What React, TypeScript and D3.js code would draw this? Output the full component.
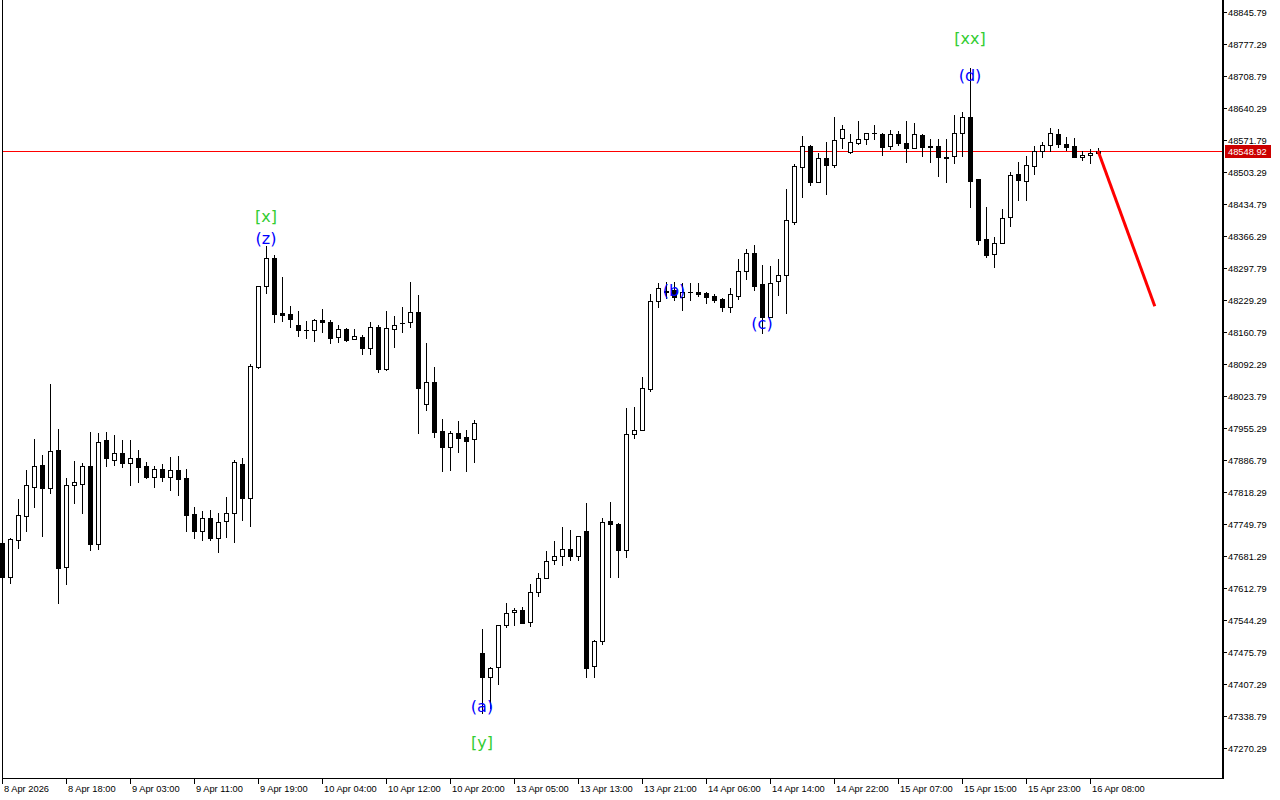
import React from "react";
import * as d3 from "d3";

const opens = [
  47709.1, 47636.3, 47715.5, 47766.9, 47829.0, 47876.1, 47826.9, 47908.2, 47657.8, 47833.3,
  47835.4, 47874.0, 47707.0, 47929.6, 47886.8, 47901.8, 47880.4, 47891.1, 47874.0, 47850.4,
  47867.5, 47850.4, 47865.4, 47848.3, 47771.2, 47734.8, 47762.6, 47719.8, 47756.2, 47773.3,
  47878.2, 47805.5, 48085.9, 48259.3, 48319.2, 48201.5, 48199.3, 48175.8, 48165.1, 48165.1,
  48186.5, 48182.2, 48150.1, 48167.2, 48145.8, 48150.1, 48126.5, 48171.5, 48081.6, 48167.2,
  48180.1, 48182.2, 48203.6, 48006.7, 48053.8, 47948.9, 47914.6, 47944.6, 47936.0, 47931.8,
  47473.7, 47422.3, 47443.7, 47533.6, 47561.4, 47565.7, 47540.0, 47604.2, 47634.2, 47672.7,
  47681.3, 47696.3, 47681.3, 47734.8, 47445.8, 47499.3, 47756.2, 47749.8, 47694.1, 47942.5,
  47951.0, 48038.8, 48227.2, 48246.4, 48250.7, 48235.7, 48246.4, 48246.4, 48244.3, 48237.9,
  48231.4, 48214.3, 48237.9, 48291.4, 48329.9, 48263.5, 48192.9, 48270.0, 48282.8, 48396.3,
  48514.0, 48559.0, 48481.9, 48533.3, 48518.3, 48576.1, 48546.1, 48565.4, 48573.9, 48586.8,
  48584.6, 48559.0, 48584.6, 48565.4, 48554.7, 48582.5, 48559.0, 48559.0, 48535.4, 48537.5,
  48586.8, 48621.0, 48488.3, 48359.9, 48327.8, 48351.3, 48407.0, 48499.0, 48484.0, 48516.1,
  48548.3, 48561.1, 48584.6, 48563.2, 48559.0, 48535.4, 48539.7, 48544.0,
];

const highs = [
  47715.5, 47719.8, 47803.3, 47865.4, 47931.8, 47897.5, 48049.5, 47953.1, 47848.3, 47884.6,
  47880.4, 47946.7, 47944.6, 47946.7, 47940.3, 47929.6, 47929.6, 47908.2, 47882.5, 47874.0,
  47878.2, 47893.2, 47895.3, 47867.5, 47786.2, 47777.6, 47779.8, 47773.3, 47807.6, 47886.8,
  47891.1, 48092.3, 48259.3, 48344.9, 48325.6, 48278.5, 48216.4, 48205.7, 48184.3, 48188.6,
  48210.0, 48186.5, 48175.8, 48169.4, 48167.2, 48154.4, 48182.2, 48175.8, 48205.7, 48195.0,
  48214.3, 48267.8, 48240.0, 48137.3, 48085.9, 47974.6, 47948.9, 47970.3, 47951.0, 47972.4,
  47525.0, 47443.7, 47533.6, 47580.7, 47570.0, 47572.1, 47621.4, 47644.9, 47692.0, 47713.4,
  47743.4, 47737.0, 47724.1, 47794.8, 47501.5, 47762.6, 47796.9, 47751.9, 47998.1, 48000.3,
  48064.5, 48242.1, 48265.7, 48267.8, 48267.8, 48265.7, 48265.7, 48265.7, 48246.4, 48242.1,
  48233.6, 48255.0, 48317.1, 48338.5, 48347.0, 48304.2, 48302.1, 48317.1, 48466.9, 48520.4,
  48580.4, 48561.1, 48544.0, 48567.5, 48621.0, 48603.9, 48584.6, 48612.5, 48586.8, 48603.9,
  48586.8, 48593.2, 48591.1, 48612.5, 48608.2, 48584.6, 48573.9, 48573.9, 48573.9, 48625.3,
  48631.7, 48725.9, 48488.3, 48428.4, 48364.1, 48424.1, 48503.3, 48524.7, 48537.5, 48559.0,
  48567.5, 48597.5, 48595.3, 48578.2, 48576.1, 48548.3, 48552.5, 48554.7,
];

const lows = [
  47625.6, 47623.5, 47698.4, 47734.8, 47786.2, 47724.1, 47816.2, 47580.7, 47621.4, 47794.8,
  47773.3, 47694.1, 47696.3, 47874.0, 47876.1, 47871.8, 47833.3, 47839.7, 47848.3, 47829.0,
  47841.8, 47822.6, 47811.9, 47734.8, 47719.8, 47715.5, 47715.5, 47689.9, 47722.0, 47711.3,
  47758.4, 47745.5, 48083.7, 48244.3, 48182.2, 48184.3, 48171.5, 48152.2, 48148.0, 48141.5,
  48160.8, 48137.3, 48139.4, 48141.5, 48145.8, 48113.7, 48113.7, 48075.2, 48079.4, 48128.7,
  48160.8, 48171.5, 47944.6, 47993.8, 47936.0, 47863.3, 47865.4, 47903.9, 47863.3, 47882.5,
  47345.2, 47355.9, 47407.3, 47529.3, 47533.6, 47537.9, 47531.5, 47595.7, 47634.2, 47664.2,
  47662.0, 47672.7, 47672.7, 47422.3, 47422.3, 47492.9, 47636.3, 47636.3, 47679.2, 47933.9,
  47951.0, 48034.5, 48214.3, 48233.6, 48229.3, 48207.9, 48229.3, 48237.9, 48222.9, 48225.0,
  48205.7, 48203.6, 48231.4, 48274.3, 48250.7, 48158.7, 48192.9, 48240.0, 48201.5, 48392.0,
  48449.8, 48475.5, 48481.9, 48456.2, 48514.0, 48554.7, 48544.0, 48563.2, 48563.2, 48573.9,
  48539.7, 48552.5, 48561.1, 48524.7, 48554.7, 48537.5, 48524.7, 48494.7, 48481.9, 48522.6,
  48537.5, 48428.4, 48349.2, 48321.3, 48299.9, 48351.3, 48387.7, 48443.4, 48443.4, 48499.0,
  48535.4, 48548.3, 48556.8, 48550.4, 48535.4, 48529.0, 48522.6, 48541.8,
];

const closes = [
  47636.3, 47717.7, 47769.1, 47833.3, 47874.0, 47826.9, 47906.1, 47655.6, 47833.3, 47839.7,
  47874.0, 47707.0, 47925.3, 47891.1, 47901.8, 47880.4, 47891.1, 47871.8, 47850.4, 47867.5,
  47850.4, 47865.4, 47846.1, 47769.1, 47734.8, 47762.6, 47719.8, 47754.1, 47773.3, 47882.5,
  47805.5, 48088.0, 48259.3, 48319.2, 48199.3, 48197.2, 48188.6, 48165.1, 48166.0, 48186.5,
  48182.2, 48148.0, 48167.2, 48143.7, 48152.2, 48126.5, 48171.5, 48081.6, 48169.4, 48175.8,
  48179.0, 48203.6, 48040.9, 48053.8, 47946.7, 47914.6, 47944.6, 47933.9, 47927.5, 47966.0,
  47422.3, 47441.5, 47533.6, 47559.3, 47565.7, 47537.9, 47604.2, 47634.2, 47670.6, 47681.3,
  47696.3, 47681.3, 47724.1, 47441.5, 47499.3, 47754.1, 47749.8, 47694.1, 47942.5, 47951.0,
  48040.9, 48227.2, 48255.0, 48248.6, 48235.7, 48246.4, 48247.0, 48242.1, 48235.7, 48229.3,
  48214.3, 48242.1, 48291.4, 48329.9, 48259.3, 48192.9, 48265.7, 48282.8, 48400.5, 48516.1,
  48559.0, 48481.9, 48533.3, 48518.3, 48571.8, 48595.3, 48567.5, 48573.9, 48586.8, 48587.0,
  48556.8, 48584.6, 48565.4, 48554.7, 48584.6, 48556.8, 48556.8, 48535.4, 48533.3, 48586.8,
  48621.0, 48484.0, 48357.7, 48325.6, 48351.3, 48404.8, 48496.9, 48486.2, 48518.3, 48548.3,
  48561.1, 48586.8, 48563.2, 48556.8, 48535.4, 48539.7, 48544.0, 48548.92,
];

const timeLabels = [
  "8 Apr 2026", "8 Apr 18:00", "9 Apr 03:00", "9 Apr 11:00", "9 Apr 19:00", "10 Apr 04:00",
  "10 Apr 12:00", "10 Apr 20:00", "13 Apr 05:00", "13 Apr 13:00", "13 Apr 21:00", "14 Apr 06:00",
  "14 Apr 14:00", "14 Apr 22:00", "15 Apr 07:00", "15 Apr 15:00", "15 Apr 23:00", "16 Apr 08:00",
];
const timeLabelBars = [0, 8, 16, 24, 32, 40, 48, 56, 64, 72, 80, 88, 96, 104, 112, 120, 128, 136];

const priceLabels = [
  48845.79, 48777.29, 48708.79, 48640.29, 48571.79, 48503.29, 48434.79, 48366.29,
  48297.79, 48229.29, 48160.79, 48092.29, 48023.79, 47955.29, 47886.79, 47818.29,
  47749.79, 47681.29, 47612.79, 47544.29, 47475.79, 47407.29, 47338.79, 47270.29,
];

const lastPrice = 48548.92;
const forecastBars = [137, 144.1];
const forecastPrices = [48548.92, 48216.0];

const annText = ["[x]", "(z)", "(a)", "[y]", "(b)", "(c)", "(d)", "[xx]"];
const annBars = [33, 33, 60, 60, 84, 95, 121, 121];
const annPrices = [48407, 48362, 47360, 47281, 48249, 48178, 48709, 48790];
const annColors = ["#32CD32", "#0000FF", "#0000FF", "#32CD32", "#0000FF", "#0000FF", "#0000FF", "#32CD32"];

export default function App() {
  const W = 1280;
  const H = 800;
  const x = d3.scaleLinear().domain([0, 137]).range([2, 1098]);
  const y = d3.scaleLinear().domain([47270.29, 48845.79]).range([748, 12]);
  const plotRight = 1222;
  const plotBottom = 778;
  const axisFont = "'Liberation Sans', Arial, sans-serif";

  const candles = opens.map((o, i) => {
    const c = closes[i];
    const h = highs[i];
    const l = lows[i];
    const cx = Math.round(x(i));
    const yTop = Math.round(y(Math.max(o, c)));
    const yBot = Math.round(y(Math.min(o, c)));
    const yH = Math.round(y(h));
    const yL = Math.round(y(l));
    const bear = c < o;
    return (
      <g key={i}>
        <rect x={cx} y={yH} width={1} height={Math.max(1, yL - yH + 1)} fill="#000" />
        {yBot - yTop < 1 ? (
          <rect x={cx - 2} y={yTop} width={5} height={1} fill="#000" />
        ) : (
          <rect
            x={cx - 1.5}
            y={yTop + 0.5}
            width={4}
            height={yBot - yTop}
            fill={bear ? "#000" : "#fff"}
            stroke="#000"
            strokeWidth={1}
          />
        )}
      </g>
    );
  });

  const lastYi = Math.round(y(lastPrice));
  const line = d3
    .line<number>()
    .x((_, i) => x(forecastBars[i]))
    .y((d) => y(d));

  return (
    <svg
      width={W}
      height={H}
      style={{ position: "fixed", left: 0, top: 0, background: "#fff" }}
      xmlns="http://www.w3.org/2000/svg"
    >
      <rect x={0} y={0} width={W} height={H} fill="#fff" />
      {/* frame */}
      <rect x={2} y={0} width={1} height={plotBottom} fill="#000" />
      <rect x={2} y={plotBottom} width={plotRight - 2} height={1} fill="#000" />
      <rect x={plotRight} y={0} width={2} height={plotBottom + 1} fill="#000" />

      {/* price axis */}
      {priceLabels.map((p, i) => {
        const yy = Math.round(y(p));
        return (
          <g key={"p" + i}>
            <rect x={plotRight + 2} y={yy} width={3} height={1} fill="#000" />
            <text x={plotRight + 6} y={yy + 4} fontSize={9.3} fontFamily={axisFont} fill="#000">
              {p.toFixed(2)}
            </text>
          </g>
        );
      })}

      {/* time axis */}
      {timeLabels.map((t, i) => {
        const xx = Math.round(x(timeLabelBars[i]));
        return (
          <g key={"t" + i}>
            <rect x={xx} y={plotBottom + 1} width={1} height={5} fill="#000" />
            <text x={xx + 2} y={792} fontSize={9.3} fontFamily={axisFont} fill="#000">
              {t}
            </text>
          </g>
        );
      })}

      {/* last price line */}
      <rect x={3} y={lastYi} width={plotRight - 3} height={1} fill="#FF0000" shapeRendering="crispEdges" />

      {candles}

      {/* forecast */}
      <path d={line(forecastPrices) || ""} stroke="#FF0000" strokeWidth={3} fill="none" />

      {/* annotations */}
      {annText.map((t, i) => (
        <text
          key={"a" + i}
          x={x(annBars[i])}
          y={y(annPrices[i])}
          textAnchor="middle"
          dominantBaseline="central"
          fontSize={16}
          fontFamily="'DejaVu Sans', sans-serif"
          fill={annColors[i]}
        >
          {t}
        </text>
      ))}

      {/* price tag */}
      <rect x={plotRight + 3} y={lastYi - 6} width={46} height={13} fill="#CC0000" />
      <text x={plotRight + 6} y={lastYi + 4} fontSize={9.3} fontFamily={axisFont} fill="#fff">
        {lastPrice.toFixed(2)}
      </text>
    </svg>
  );
}
